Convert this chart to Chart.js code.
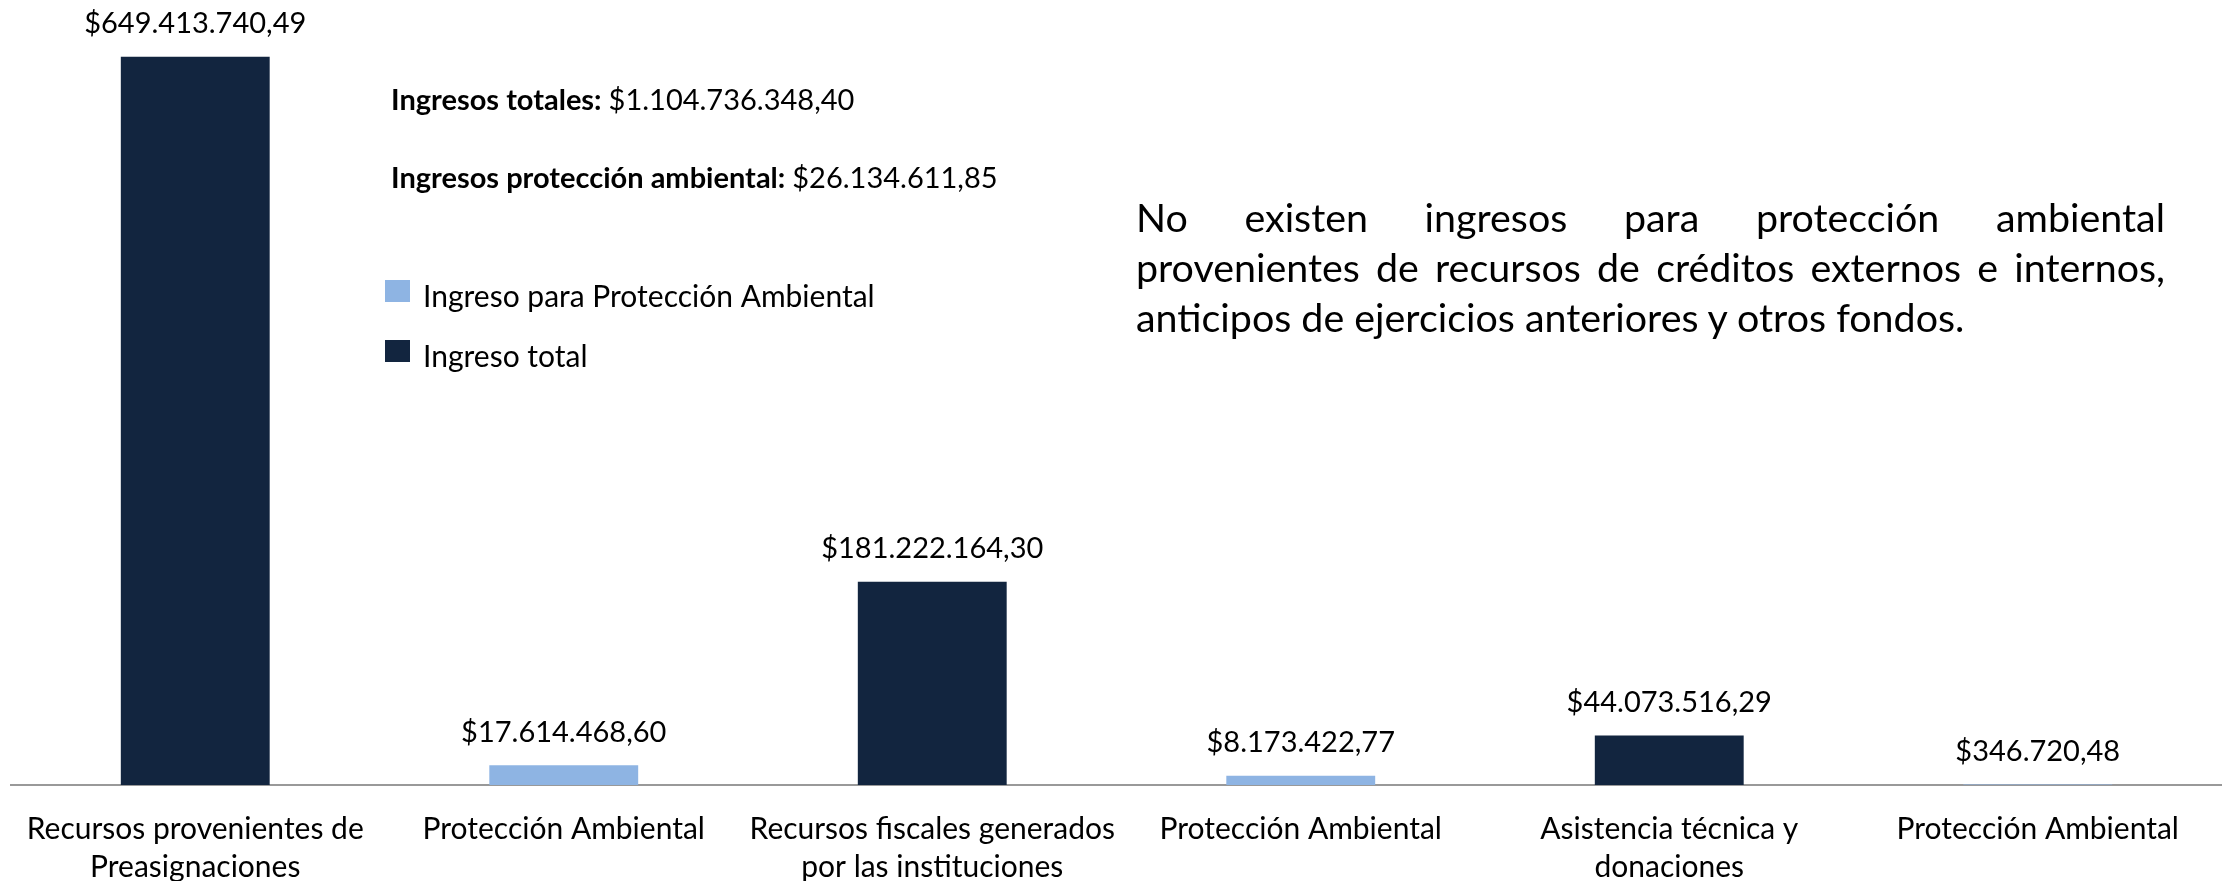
<!DOCTYPE html>
<html>
<head>
<meta charset="utf-8">
<script src="https://cdn.jsdelivr.net/npm/chart.js@4"></script>
<style>
  body { margin: 0; background: #fff; }
  #wrap { position: relative; width: 2222px; height: 881px; }
  #nota { position: absolute; left: 1136px; top: 192px; width: 1029px;
          font-family: Lato, sans-serif; font-size: 39.4px; line-height: 50px; color: #000; }
  #nota .j { text-align: justify; text-align-last: justify; }
</style>
</head>
<body>
<div id="wrap">
  <canvas id="grafico" width="2222" height="881"></canvas>
  <div id="nota">
    <div class="j">No existen ingresos para protección ambiental</div>
    <div class="j">provenientes de recursos de créditos externos e internos,</div>
    <div>anticipos de ejercicios anteriores y otros fondos.</div>
  </div>
</div>
<script>
const categorias = [
  ["Recursos provenientes de", "Preasignaciones"],
  "Protección Ambiental",
  ["Recursos fiscales generados", "por las instituciones"],
  "Protección Ambiental",
  ["Asistencia técnica y", "donaciones"],
  "Protección Ambiental"
];
const ingresoAmbiental = [null, 17614468.60, null, 8173422.77, null, 346720.48];
const ingresoTotal = [649413740.49, null, 181222164.30, null, 44073516.29, null];

const totalIngresos = "$1.104.736.348,40";
const totalAmbiental = "$26.134.611,85";

const FUENTE = "Lato, sans-serif";

function moneda(v) {
  const partes = v.toFixed(2).split(".");
  const entero = partes[0].replace(/\B(?=(\d{3})+(?!\d))/g, ".");
  return "$" + entero + "," + partes[1];
}

// etiquetas de valor encima de cada barra
const etiquetas = {
  id: "etiquetas",
  afterDatasetsDraw(chart) {
    const ctx = chart.ctx;
    ctx.save();
    ctx.font = "29px " + FUENTE;
    ctx.fillStyle = "#000";
    ctx.textAlign = "center";
    ctx.textBaseline = "middle";
    chart.data.datasets.forEach((ds, i) => {
      chart.getDatasetMeta(i).data.forEach((bar, j) => {
        const v = ds.data[j];
        if (v == null) return;
        ctx.fillText(moneda(v), bar.x, bar.y - 33);
      });
    });
    ctx.restore();
  }
};

// totales y leyenda dibujados a mano
const resumen = {
  id: "resumen",
  afterDraw(chart) {
    const ctx = chart.ctx;
    ctx.save();
    ctx.textBaseline = "middle";
    ctx.fillStyle = "#000";
    const linea = (negrita, normal, x, y) => {
      ctx.font = "bold 29px " + FUENTE;
      ctx.fillText(negrita, x, y);
      const w = ctx.measureText(negrita).width;
      ctx.font = "29px " + FUENTE;
      ctx.fillText(normal, x + w + 7, y);
    };
    linea("Ingresos totales:", totalIngresos, 391, 101);
    linea("Ingresos protección ambiental:", totalAmbiental, 391, 179);

    chart.data.datasets.forEach((ds, i) => {
      const y = 280 + i * 60;
      ctx.fillStyle = ds.backgroundColor;
      ctx.fillRect(385, y, 25, 22);
      ctx.fillStyle = "#000";
      ctx.font = "30px " + FUENTE;
      ctx.fillText(ds.label, 423, y + 17);
    });
    ctx.restore();
  }
};

new Chart(document.getElementById("grafico"), {
  type: "bar",
  data: {
    labels: categorias,
    datasets: [
      { label: "Ingreso para Protección Ambiental", data: ingresoAmbiental,
        backgroundColor: "#8EB4E3", skipNull: true },
      { label: "Ingreso total", data: ingresoTotal,
        backgroundColor: "#12253F", skipNull: true }
    ]
  },
  options: {
    responsive: false,
    animation: false,
    devicePixelRatio: 1,
    layout: { padding: { left: 11, right: 0, top: 0, bottom: 0 } },
    categoryPercentage: 1,
    barPercentage: 0.404,
    plugins: { legend: { display: false }, tooltip: { enabled: false } },
    scales: {
      x: {
        grid: { display: false },
        border: { display: true, color: "#999999", width: 2 },
        ticks: {
          color: "#000",
          font: { family: FUENTE, size: 30, lineHeight: 1.27 },
          padding: 17,
          maxRotation: 0,
          autoSkip: false
        },
        afterFit(scale) { scale.height = 96; }
      },
      y: {
        display: false,
        min: 0,
        max: 700000000
      }
    }
  },
  plugins: [etiquetas, resumen]
});
</script>
</body>
</html>
